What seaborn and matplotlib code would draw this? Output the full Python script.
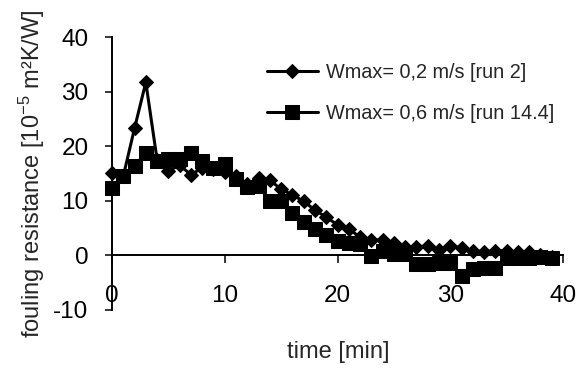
import numpy as np
import pandas as pd
import matplotlib
matplotlib.use("Agg")
import matplotlib.pyplot as plt
import seaborn as sns

# ---- data ----
time_min = list(range(0, 40))
run2 = [15.0, 14.5, 23.3, 31.7, 17.5, 15.5, 16.5, 14.8, 16.0, 15.8,
        15.2, 14.5, 13.0, 14.2, 13.8, 12.1, 11.1, 9.9, 8.3, 7.0,
        5.6, 4.9, 3.3, 2.9, 2.8, 2.3, 1.5, 1.5, 1.8, 1.0,
        1.8, 1.35, 0.85, 0.7, 0.85, 0.85, 0.6, 0.6, 0.0, -0.3]
run14 = [12.3, 14.5, 16.4, 18.8, 17.3, 17.6, 17.6, 18.8, 17.2, 16.0,
         16.8, 14.0, 12.5, 12.8, 9.9, 9.9, 7.7, 6.2, 4.9, 3.7,
         2.6, 2.3, 2.0, -0.2, 0.8, 0.2, 0.2, -1.5, -1.5, -1.4,
         -1.4, -3.7, -2.5, -2.3, -2.3, -0.5, -0.4, -0.4, -0.3, -0.5]
labels = ["Wmax= 0,2 m/s [run 2]", "Wmax= 0,6 m/s [run 14.4]"]
xticks = [0, 10, 20, 30, 40]
yticks = [-10, 0, 10, 20, 30, 40]

sns.set_style("ticks")
plt.rcParams["font.family"] = ["Liberation Sans", "DejaVu Sans"]
plt.rcParams["mathtext.fontset"] = "custom"
plt.rcParams["mathtext.rm"] = "Liberation Sans"
plt.rcParams["mathtext.it"] = "Liberation Sans"
plt.rcParams["axes.unicode_minus"] = False

df1 = pd.DataFrame({"t": time_min, "R": run2})
df2 = pd.DataFrame({"t": time_min, "R": run14})

W, H = 587, 368
fig = plt.figure(figsize=(W / 100, H / 100), dpi=100)
ax = fig.add_axes([112 / W, 1 - 310 / H, (563 - 112) / W, (310 - 37) / H])

sns.lineplot(data=df1, x="t", y="R", ax=ax, color="black", marker="D",
             markersize=7.6, linewidth=2.2, markeredgecolor="black",
             label=labels[0], clip_on=False)
sns.lineplot(data=df2, x="t", y="R", ax=ax, color="black", marker="s",
             markersize=9.6, linewidth=2.2, markeredgecolor="black",
             label=labels[1], clip_on=False)

ax.set_xlim(0, 40)
ax.set_ylim(-10, 40)
ax.set_xticks(xticks)
ax.set_yticks(yticks)
ax.set_xticklabels([str(v) for v in xticks])
ax.set_yticklabels([str(v) for v in yticks])

ax.spines["top"].set_visible(False)
ax.spines["right"].set_visible(False)
ax.spines["bottom"].set_position(("data", 0))
for s in ("left", "bottom"):
    ax.spines[s].set_linewidth(1.4)
    ax.spines[s].set_color("black")

ax.tick_params(axis="x", direction="out", length=5.8, width=1.1, pad=15.5,
               labelsize=17.5, colors="black")
ax.tick_params(axis="y", direction="out", length=5, width=1.1, pad=12,
               labelsize=17.5, colors="black")

ax.set_xlabel("time [min]", fontsize=17, va="center")
ax.xaxis.set_label_coords(0.501, (310 - 352) / 273)
ax.set_ylabel(r"fouling resistance [10$^{-5}$ m²K/W]", fontsize=17, va="center")
ax.yaxis.set_label_coords((32 - 112) / 451, 0.5)

handles, labs = ax.get_legend_handles_labels()
leg = ax.legend(handles, labs, loc="upper left",
                bbox_to_anchor=(267 / W, 1 - 63 / H),
                bbox_transform=fig.transFigure, frameon=False,
                fontsize=14.3, handlelength=2.55, handletextpad=0.4,
                labelspacing=1.1, borderpad=0, borderaxespad=0)

fig.savefig("out.png", dpi=100)
